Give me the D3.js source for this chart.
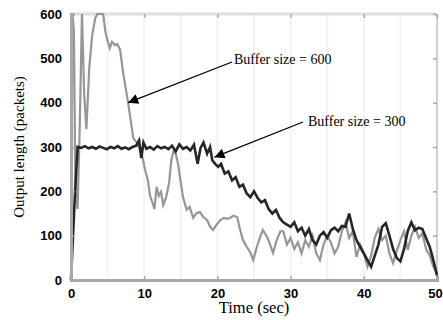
<!DOCTYPE html>
<html>
<head>
<meta charset="utf-8">
<script src="https://cdn.jsdelivr.net/npm/d3@7"></script>
<style>
  body { margin: 0; background: #fff; }
  svg { display: block; }
</style>
</head>
<body>
<div id="chart"></div>
<script>
// time (sec) / queue length (packets)
const t600 = [0, 0.2, 0.4, 0.6, 0.9, 1.2, 1.5, 1.8, 2.1, 2.5, 2.9, 3.3, 3.6, 4.0, 4.4, 4.7, 5.0, 5.3, 5.6, 6.0,
  6.3, 6.7, 7.1, 7.5, 7.8, 8.2, 8.5, 9.0, 9.4, 9.7, 10.1, 10.5, 10.8, 11.1, 11.4, 11.7, 12.0, 12.3, 12.6, 13.0,
  13.4, 13.7, 14.0, 14.3, 14.6, 15.0, 15.3, 15.8, 16.2, 16.7, 17.1, 17.6, 18.1, 18.6, 19.0, 19.4, 19.9, 20.4, 20.9, 21.3,
  21.7, 22.2, 22.7, 23.1, 23.5, 24.0, 24.5, 24.9, 25.4, 25.8, 26.2, 26.8, 27.2, 27.6, 28.1, 28.6, 29.0, 29.5, 30.0, 30.5,
  31.0, 31.5, 32.0, 32.5, 33.0, 33.5, 34.0, 34.5, 35.0, 35.5, 36.0, 36.5, 37.0, 37.5, 38.0, 38.5, 39.0, 39.5, 40.0, 40.5,
  41.0, 41.5, 42.0, 42.5, 43.0, 43.5, 44.0, 44.5, 45.0, 45.5, 46.0, 46.5, 47.0, 47.5, 48.0, 48.5, 49.0, 49.5, 50.0];
const q600 = [0, 600, 560, 200, 160, 350, 600, 420, 340, 480, 553, 590, 600, 600, 600, 560, 540, 523, 537, 530,
  532, 520, 470, 430, 400, 355, 320, 310, 295, 282, 250, 225, 190, 176, 160, 210, 190, 199, 169, 187,
  219, 270, 290, 286, 264, 220, 187, 158, 165, 140, 150, 153, 142, 135, 120, 113, 125, 135, 140, 138,
  140, 145, 142, 113, 90, 75, 62, 45, 75, 95, 113, 97, 80, 61, 90, 110, 110, 80, 95, 70,
  85, 60, 90, 75, 100, 60, 45, 80, 100, 85, 60, 75, 110, 130, 95, 110, 52, 80, 60, 30,
  55, 95, 115, 90, 100, 60, 38, 65, 90, 110, 68, 100, 120, 95, 105, 70, 55, 30, 15];

const t300 = [0, 0.5, 0.9, 1.4, 1.9, 2.4, 2.9, 3.4, 3.9, 4.4, 4.9, 5.4, 5.9, 6.4, 6.9, 7.4, 7.9, 8.4, 8.9, 9.3,
  9.6, 9.9, 10.3, 10.8, 11.3, 11.8, 12.3, 12.8, 13.3, 13.8, 14.3, 14.8, 15.3, 15.8, 16.3, 16.8, 17.3, 17.7, 18.1, 18.6,
  19.0, 19.3, 19.7, 20.1, 20.5, 21.0, 21.5, 22.0, 22.5, 23.0, 23.5, 24.0, 24.5, 25.0, 25.5, 26.0, 26.5, 27.0, 27.5, 28.0,
  28.5, 29.0, 29.5, 30.0, 30.5, 31.0, 31.5, 32.0, 32.5, 33.0, 33.5, 34.0, 34.5, 35.0, 35.5, 36.0, 36.5, 37.0, 37.5, 38.0,
  38.5, 39.0, 39.5, 40.0, 40.5, 41.0, 41.5, 42.0, 42.5, 43.0, 43.5, 44.0, 44.5, 45.0, 45.5, 46.0, 46.5, 47.0, 47.5, 48.0,
  48.5, 49.0, 49.5, 50.0];
const q300 = [0, 180, 300, 298, 302, 297, 300, 296, 301, 298, 295, 300, 297, 302, 296, 299, 295, 300, 303, 315,
  275, 310, 296, 300, 294, 302, 297, 300, 295, 303, 290, 306, 296, 300, 292, 305, 262, 298, 310, 285,
  300, 270, 262, 255, 262, 240, 245, 225, 232, 210, 215, 195, 187, 200, 185, 175, 180, 160, 150, 158,
  140, 130, 125, 120, 130, 110, 118, 100, 115, 90, 80, 100, 108, 95, 112, 118, 110, 122, 120, 150,
  115, 90, 75, 60, 45, 30, 55, 80, 120, 128, 100, 70, 50, 42, 70, 110, 130, 112, 118, 115,
  95, 75, 45, 10];

const xTicks = [0, 10, 20, 30, 40, 50];
const yTicks = [0, 100, 200, 300, 400, 500, 600];

const notes = [
  { label: 'Buffer size = 600', tx: 234, ty: 64, t: 7.8, q: 400, sx: 232, sy: 62 },
  { label: 'Buffer size = 300', tx: 308, ty: 126, t: 19.6, q: 277, sx: 303, sy: 122 }
];

const W = 443, H = 320;
const margin = { top: 14, right: 6, bottom: 40, left: 71 };
const width = W - margin.left - margin.right;
const height = H - margin.top - margin.bottom;

const svg = d3.select('#chart').append('svg')
  .attr('width', W)
  .attr('height', H);

const defs = svg.append('defs');
defs.append('filter').attr('id', 'scan')
  .append('feGaussianBlur').attr('stdDeviation', 0.75);
defs.append('marker')
  .attr('id', 'head')
  .attr('viewBox', '0 0 10 10')
  .attr('refX', 10).attr('refY', 5)
  .attr('markerWidth', 16).attr('markerHeight', 10)
  .attr('markerUnits', 'userSpaceOnUse')
  .attr('orient', 'auto')
  .append('path').attr('d', 'M0,0L10,5L0,10Z').attr('fill', '#000');

const g = svg.append('g')
  .attr('transform', 'translate(' + margin.left + ',' + margin.top + ')');

const x = d3.scaleLinear().domain([0, 50]).range([0, width]);
const y = d3.scaleLinear().domain([0, 600]).range([height, 0]);

// faint grid stripes like the scan
g.selectAll('.stripe')
  .data(d3.range(5, 50, 5))
  .enter().append('line')
  .attr('x1', d => x(d)).attr('x2', d => x(d))
  .attr('y1', 0).attr('y2', height)
  .attr('stroke', '#f3f3f3').attr('stroke-width', 2);

// box
g.append('line').attr('x1', 0).attr('x2', width).attr('y1', 0).attr('y2', 0)
  .attr('stroke', '#dedede').attr('stroke-width', 3);
g.append('line').attr('x1', width).attr('x2', width).attr('y1', 0).attr('y2', height)
  .attr('stroke', '#d0d0d0').attr('stroke-width', 2);

const grey = sel => {
  sel.select('.domain').remove();
  sel.selectAll('line').attr('stroke', '#aaa').attr('stroke-width', 1.5);
};

g.append('g').call(d3.axisTop(x).tickValues(xTicks).tickSize(-4).tickFormat(''))
  .call(grey);
g.append('g').attr('transform', 'translate(' + width + ',0)')
  .call(d3.axisRight(y).tickValues(yTicks).tickSize(-4).tickFormat(''))
  .call(grey);

const line = d3.line().x(d => x(d[0])).y(d => y(d[1]));

g.append('path')
  .datum(d3.zip(t600, q600))
  .attr('d', line)
  .attr('fill', 'none')
  .attr('stroke', '#969696')
  .attr('stroke-width', 2.2)
  .attr('filter', 'url(#scan)');

g.append('path')
  .datum(d3.zip(t300, q300))
  .attr('d', line)
  .attr('fill', 'none')
  .attr('stroke', '#262626')
  .attr('stroke-width', 2.6)
  .attr('filter', 'url(#scan)');

// axes
const xAxis = g.append('g').attr('transform', 'translate(0,' + height + ')')
  .call(d3.axisBottom(x).tickValues(xTicks).tickSize(-4).tickPadding(9));
const yAxis = g.append('g')
  .call(d3.axisLeft(y).tickValues(yTicks).tickSize(-4).tickPadding(9));

[xAxis, yAxis].forEach(a => {
  a.select('.domain').attr('stroke', '#a8a8a8').attr('stroke-width', 3);
  a.selectAll('.tick line').attr('stroke', '#aaa').attr('stroke-width', 1.5);
  a.selectAll('text')
    .attr('fill', '#000')
    .style('font-family', '"Liberation Sans", Arial, sans-serif')
    .style('font-weight', 'bold')
    .style('font-size', '13px');
});
yAxis.selectAll('text').attr('dy', '0.32em');
// last x label sits at the window edge
xAxis.selectAll('.tick text').filter(d => d === 50).attr('dx', -2);

svg.append('text')
  .attr('x', 254).attr('y', 313)
  .attr('text-anchor', 'middle')
  .style('font-family', '"Liberation Serif", "Times New Roman", serif')
  .style('font-size', '16.5px')
  .text('Time (sec)');

svg.append('text')
  .attr('transform', 'translate(24,' + (margin.top + height / 2) + ') rotate(-90)')
  .attr('text-anchor', 'middle')
  .style('font-family', '"Liberation Serif", "Times New Roman", serif')
  .style('font-size', '15px')
  .text('Output length (packets)');

// annotations
notes.forEach(n => {
  svg.append('line')
    .attr('x1', n.sx).attr('y1', n.sy)
    .attr('x2', margin.left + x(n.t)).attr('y2', margin.top + y(n.q))
    .attr('stroke', '#000').attr('stroke-width', 1.3)
    .attr('marker-end', 'url(#head)');
  svg.append('text')
    .attr('x', n.tx).attr('y', n.ty)
    .style('font-family', '"Liberation Serif", "Times New Roman", serif')
    .style('font-size', '14px')
    .text(n.label);
});
</script>
</body>
</html>
